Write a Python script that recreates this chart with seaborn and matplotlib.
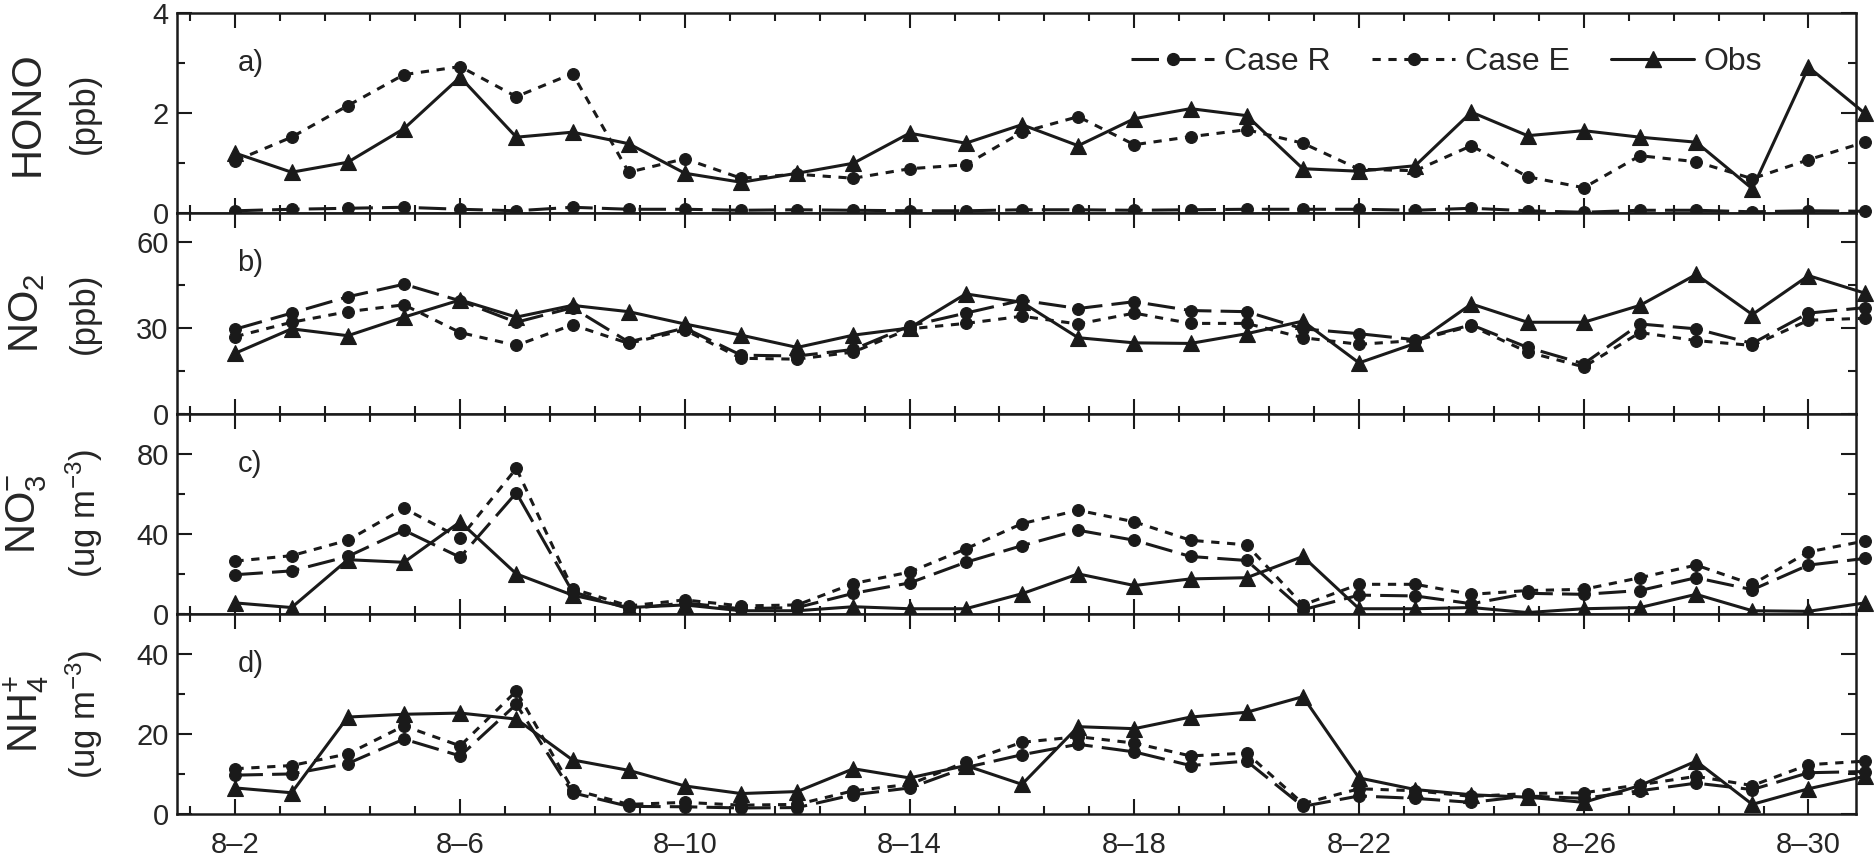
import numpy as np
import pandas as pd
import matplotlib
matplotlib.use("Agg")
import matplotlib.pyplot as plt
from matplotlib import font_manager
import seaborn as sns

# ---------------- data (daily, 8-2 .. 8-31) ----------------
days = list(range(2, 32))

hono_R = [0.05, 0.08, 0.10, 0.12, 0.08, 0.05, 0.12, 0.08, 0.08, 0.06, 0.07, 0.06, 0.05, 0.05, 0.07,
          0.07, 0.06, 0.07, 0.08, 0.08, 0.08, 0.06, 0.10, 0.05, 0.02, 0.06, 0.06, 0.03, 0.05, 0.04]
hono_E = [1.05, 1.52, 2.15, 2.77, 2.93, 2.33, 2.79, 0.82, 1.09, 0.70, 0.78, 0.70, 0.89, 0.97, 1.62,
          1.93, 1.37, 1.53, 1.67, 1.40, 0.88, 0.85, 1.35, 0.73, 0.51, 1.15, 1.03, 0.69, 1.07, 1.42]
hono_obs = [1.20, 0.82, 1.02, 1.69, 2.72, 1.52, 1.62, 1.39, 0.80, 0.62, 0.80, 1.00, 1.60, 1.40, 1.77,
            1.35, 1.89, 2.09, 1.95, 0.89, 0.84, 0.95, 2.02, 1.55, 1.65, 1.52, 1.42, 0.49, 2.92, 2.00]

no2_R = [29.5, 35.1, 40.8, 45.2, 39.4, 31.9, 37.0, 25.0, 29.9, 20.4, 20.1, 22.4, 30.6, 35.1, 39.6,
         36.7, 39.1, 36.0, 35.6, 29.6, 27.9, 25.8, 31.0, 23.1, 17.4, 31.3, 29.6, 24.5, 35.1, 37.0]
no2_E = [26.9, 31.9, 35.6, 38.0, 28.3, 23.8, 31.0, 24.5, 29.2, 19.3, 19.0, 21.5, 29.6, 31.5, 34.0,
         31.3, 35.1, 31.5, 31.5, 26.5, 24.2, 25.5, 30.6, 21.5, 16.3, 28.3, 25.5, 23.8, 32.6, 33.3]
no2_obs = [21.1, 29.6, 27.2, 33.7, 39.7, 33.7, 37.8, 35.6, 31.3, 27.4, 23.1, 27.4, 29.9, 41.8, 38.9,
           26.5, 24.7, 24.5, 27.9, 32.3, 17.7, 24.5, 38.3, 31.9, 31.9, 37.8, 48.6, 34.6, 48.2, 42.1]

no3_R = [19.5, 21.4, 28.6, 41.7, 28.2, 60.4, 11.0, 2.5, 5.4, 2.5, 3.1, 10.2, 15.4, 25.7, 34.0,
         41.7, 36.7, 28.6, 26.6, 2.0, 9.3, 8.9, 5.0, 10.2, 9.7, 11.6, 18.0, 12.0, 24.3, 27.6]
no3_E = [26.3, 29.0, 36.7, 52.7, 37.8, 72.6, 12.5, 3.9, 6.9, 3.9, 4.4, 15.1, 20.8, 32.4, 45.0,
         51.7, 45.9, 36.7, 34.4, 4.4, 14.7, 14.7, 9.7, 11.6, 12.2, 18.0, 24.3, 14.7, 30.9, 36.3]
no3_obs = [5.4, 3.1, 27.0, 25.7, 45.9, 19.9, 9.3, 3.1, 4.4, 1.5, 1.5, 3.5, 2.5, 2.5, 10.0,
           19.9, 14.1, 17.4, 18.0, 28.6, 2.5, 2.5, 3.1, 0.6, 2.5, 3.1, 9.7, 1.5, 1.2, 5.4]

nh4_R = [9.7, 10.0, 12.6, 18.7, 14.5, 27.4, 5.3, 1.9, 1.8, 1.5, 1.6, 4.8, 6.5, 11.6, 14.8,
         17.4, 15.5, 12.1, 13.2, 1.9, 4.5, 3.9, 2.9, 4.5, 3.9, 5.8, 7.7, 6.1, 10.3, 10.6]
nh4_E = [11.3, 12.1, 15.0, 22.0, 17.0, 30.7, 6.1, 2.4, 2.9, 2.2, 2.4, 5.8, 7.4, 13.0, 17.9,
         19.3, 17.7, 14.5, 15.2, 2.6, 6.3, 5.8, 4.4, 5.1, 5.3, 7.3, 9.4, 7.1, 12.3, 13.2]
nh4_obs = [6.5, 5.3, 24.2, 24.9, 25.2, 23.7, 13.5, 10.9, 7.0, 5.1, 5.6, 11.3, 9.0, 12.1, 7.4,
           21.8, 21.3, 24.2, 25.4, 29.3, 9.0, 6.1, 4.8, 4.2, 2.9, 7.1, 13.2, 2.4, 6.3, 9.4]

series_labels = ["Case R", "Case E", "Obs"]
panel_letters = ["a)", "b)", "c)", "d)"]
species_labels = ["HONO", "NO$_2$", "NO$_3^{-}$", "NH$_4^{+}$"]
unit_labels = ["(ppb)", "(ppb)", "(ug m$^{-3}$)", "(ug m$^{-3}$)"]
y_limits = [(0, 4), (0, 70), (0, 100), (0, 50)]
y_major = [[0, 2, 4], [0, 30, 60], [0, 40, 80], [0, 20, 40]]
y_minor = [[1, 3], [15, 45], [20, 60, 100], [10, 30, 50]]
x_major = [2, 6, 10, 14, 18, 22, 26, 30]
x_major_labels = ["8\u20132", "8\u20136", "8\u201310", "8\u201314", "8\u201318", "8\u201322", "8\u201326", "8\u201330"]

panels = [
    (hono_R, hono_E, hono_obs),
    (no2_R, no2_E, no2_obs),
    (no3_R, no3_E, no3_obs),
    (nh4_R, nh4_E, nh4_obs),
]

# ---------------- style ----------------
sns.set_theme(style="ticks")
avail = {f.name for f in font_manager.fontManager.ttflist}
fam = "Liberation Sans Narrow" if "Liberation Sans Narrow" in avail else "Liberation Sans"
plt.rcParams["font.family"] = [fam, "DejaVu Sans"]
plt.rcParams["mathtext.fontset"] = "custom"
plt.rcParams["mathtext.rm"] = fam
plt.rcParams["mathtext.it"] = fam
plt.rcParams["mathtext.default"] = "regular"
plt.rcParams["axes.linewidth"] = 1.8

fig, axes = plt.subplots(4, 1, figsize=(18.75, 8.58), dpi=100, sharex=True)
fig.subplots_adjust(left=0.0944, right=0.990, top=0.9848, bottom=0.0513, hspace=0)

styles = [
    dict(linestyle=(0, (9, 3)), marker="o", markersize=8.5),
    dict(linestyle=(0, (2.7, 2.5)), marker="o", markersize=8.5),
    dict(linestyle="-", marker="^", markersize=12),
]

minor_x = [round(1.2 + 0.8 * k, 2) for k in range(37)]
minor_x = [v for v in minor_x if all(abs(v - m) > 1e-6 for m in x_major)]

for i, ax in enumerate(axes):
    for vals, lab, st in zip(panels[i], series_labels, styles):
        df = pd.DataFrame({"day": days, "val": vals})
        sns.lineplot(data=df, x="day", y="val", ax=ax, color="k", lw=2.2,
                     markeredgecolor="k", markeredgewidth=0.8, label=lab if i == 0 else None,
                     errorbar=None, sort=False, clip_on=False, legend=False, **st)
    ax.set_xlim(0.96, 30.85)
    ax.set_ylim(*y_limits[i])
    ax.set_yticks(y_major[i])
    ax.set_yticks(y_minor[i], minor=True)
    ax.set_xticks(x_major)
    ax.set_xticks(minor_x, minor=True)
    ax.tick_params(axis="both", which="both", direction="in", top=True, right=True,
                   labelsize=21, color="k", width=1.5, pad=6)
    ax.tick_params(axis="both", which="major", length=11)
    ax.tick_params(axis="both", which="minor", length=5.5)
    ax.set_xlabel("")
    ax.set_ylabel("")
    for s in ax.spines.values():
        s.set_color("k")
        s.set_linewidth(1.8)
    ax.text(0.036, 0.75, panel_letters[i], transform=ax.transAxes, fontsize=21,
            ha="left", va="center")
    yc = (ax.get_position().y0 + ax.get_position().y1) / 2
    fig.text(0.0145, yc, species_labels[i], rotation=90, ha="center", va="center", fontsize=30)
    fig.text(0.0448, yc, unit_labels[i], rotation=90, ha="center", va="center", fontsize=25)

axes[-1].set_xticklabels(x_major_labels)
axes[-1].tick_params(axis="x", which="major", pad=12)

handles, labels = axes[0].get_legend_handles_labels()
from matplotlib.lines import Line2D
handles = [Line2D([], [], color="k", lw=2.2, markeredgecolor="k", **st) for st in styles]
axes[0].legend(handles, series_labels, loc="center right", bbox_to_anchor=(0.944, 0.755),
               ncol=3, frameon=False, fontsize=23, handlelength=2.6, handletextpad=0.3,
               columnspacing=1.3, borderpad=0, borderaxespad=0, numpoints=1)

fig.savefig("out.png", dpi=100)
